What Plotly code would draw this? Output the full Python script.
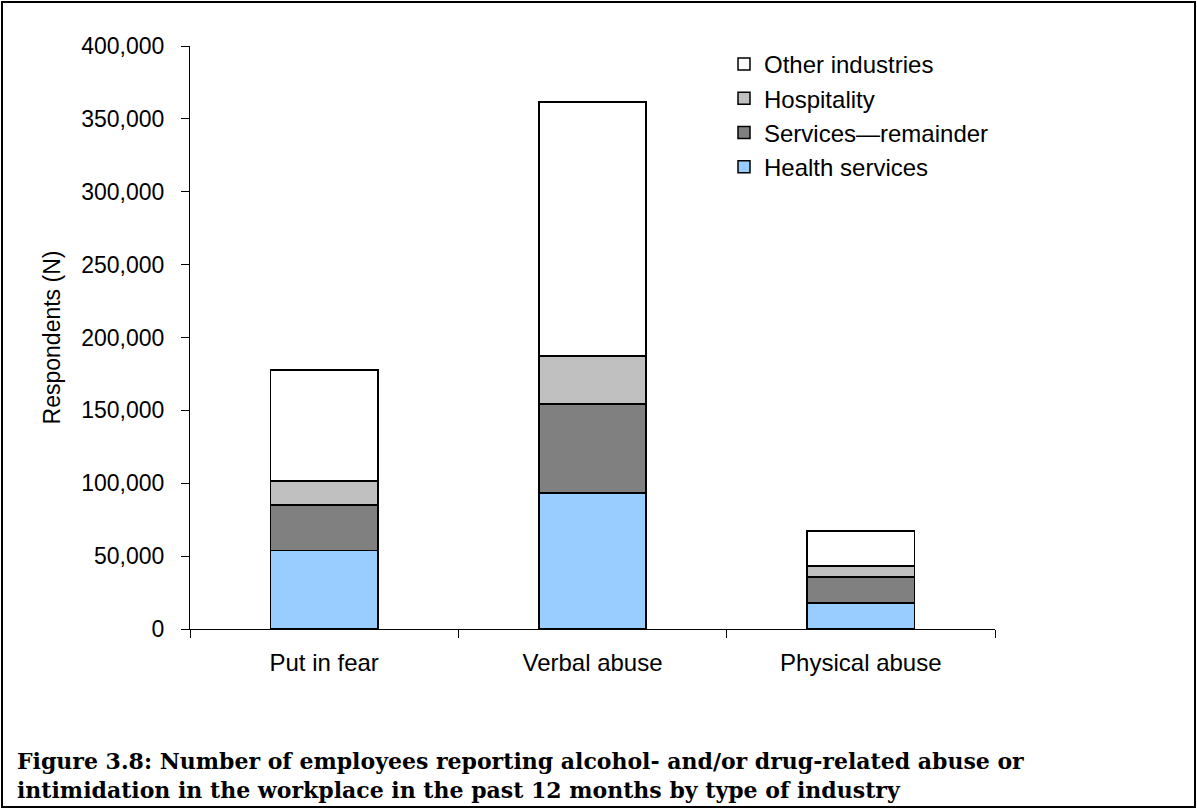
import plotly.graph_objects as go

categories = ["Put in fear", "Verbal abuse", "Physical abuse"]
health_services = [54000, 93300, 17800]
services_remainder = [31000, 61100, 17900]
hospitality = [16500, 32900, 7500]
other_industries = [76200, 174200, 24000]

series = [
    ("Health services", health_services, "#99CCFF"),
    ("Services\u2014remainder", services_remainder, "#808080"),
    ("Hospitality", hospitality, "#C0C0C0"),
    ("Other industries", other_industries, "#FFFFFF"),
]

fig = go.Figure()
for name, vals, col in series:
    fig.add_trace(go.Bar(
        x=categories, y=vals, name=name,
        marker=dict(color=col, line=dict(color="black", width=1.5)),
    ))

W, H = 1197, 809
ml, mr, mt, mb = 190, 202, 46, 180
pw, ph = W - ml - mr, H - mt - mb

font = "Liberation Sans, Arial, sans-serif"
fig.update_layout(
    width=W, height=H,
    barmode="stack", bargap=0.6,
    plot_bgcolor="white", paper_bgcolor="white",
    margin=dict(l=ml, r=mr, t=mt, b=mb, pad=0),
    font=dict(family=font, size=23, color="black"),
    showlegend=True,
    legend=dict(
        x=(724 - ml) / pw, y=1 + (mt - 42) / ph, xanchor="left", yanchor="top",
        traceorder="reversed", bgcolor="rgba(0,0,0,0)",
        font=dict(size=24, family=font), tracegroupgap=0, itemwidth=30,
    ),
    xaxis=dict(
        showline=True, linecolor="black", linewidth=1,
        ticks="outside", tickson="boundaries", ticklen=8, tickcolor="black",
        tickfont=dict(size=24), showgrid=False, ticklabelstandoff=12,
    ),
    yaxis=dict(
        range=[0, 400000], dtick=50000, tickformat=",",
        showline=True, linecolor="black", linewidth=1,
        ticks="outside", ticklen=8, tickcolor="black",
        showgrid=False, zeroline=False, ticklabelstandoff=12,
        title=dict(text="Respondents (N)", font=dict(size=23), standoff=14),
        tickfont=dict(size=23),
    ),
)

# outer frame
fig.add_shape(
    type="rect", xref="paper", yref="paper",
    x0=(2 - ml) / pw, x1=(W - 2 - ml) / pw,
    y0=-(mb - 2) / ph, y1=1 + (mt - 2) / ph,
    line=dict(color="black", width=2), fillcolor="rgba(0,0,0,0)", layer="below",
)

caption = ("Figure 3.8: Number of employees reporting alcohol- and/or drug-related abuse or<br>"
           "intimidation in the workplace in the past 12 months by type of industry")
fig.add_annotation(
    xref="paper", yref="paper",
    x=(15 - ml) / pw, y=-(746 - (H - mb)) / ph,
    xanchor="left", yanchor="top", align="left", showarrow=False,
    text="<b>" + caption + "</b>",
    font=dict(family="DejaVu Serif, Liberation Serif, serif", size=22, color="black"),
)

fig.write_html(
    "out.html",
    config={"displayModeBar": False},
    post_script="document.body.style.margin='0';document.body.style.overflow='hidden';",
)
